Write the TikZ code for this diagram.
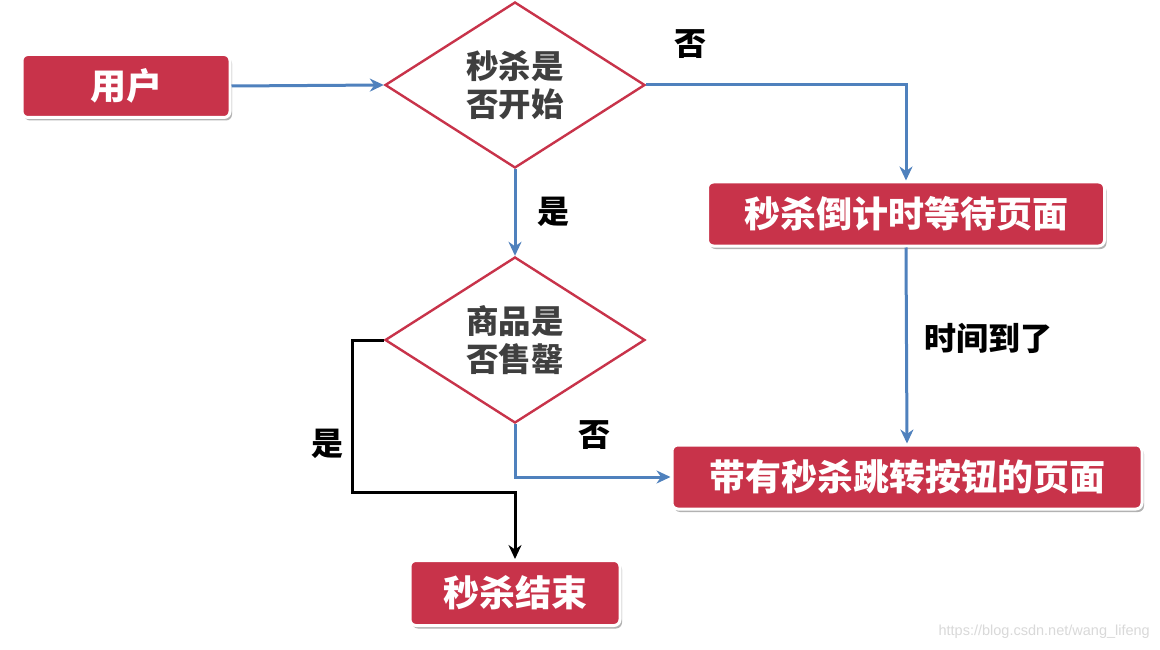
\documentclass[tikz,border=0pt]{standalone}
\usepackage{fontspec}
\newfontfamily\cjk{Noto Sans CJK SC}
\setsansfont{Liberation Sans}
\usetikzlibrary{shapes.geometric,arrows.meta,shadows}
\definecolor{boxred}{HTML}{C8334A}
\definecolor{flowblue}{HTML}{4F81BD}
\definecolor{diatext}{HTML}{3F3F3F}
\begin{document}
\begin{tikzpicture}[x=1pt,y=-1pt,
  redbox/.style={rectangle, rounded corners=6pt, fill=boxred, draw=white, line width=3pt,
    text=white, font=\cjk\bfseries\fontsize{36}{42}\selectfont, inner sep=0pt,
    drop shadow={shadow xshift=2pt, shadow yshift=-3pt, opacity=0.3, fill=black}},
  decision/.style={diamond, draw=boxred, line width=2.4pt, fill=white, aspect=1.57,
    minimum width=260pt, minimum height=166pt, inner sep=0pt, align=center,
    text=diatext, font=\cjk\bfseries\fontsize{32.5}{38}\selectfont},
  flow/.style={draw=flowblue, line width=3pt, -{Stealth[length=14pt,width=13pt]}},
  blackflow/.style={draw=black, line width=3pt, -{Stealth[length=14pt,width=13pt]}},
  lbl/.style={text=black, font=\cjk\bfseries\fontsize{32}{36}\selectfont, inner sep=0pt}
]
\useasboundingbox[fill=white] (0,0) rectangle (1160,650);

\node[redbox, minimum width=208pt, minimum height=63pt] (u) at (126,86) {用户};
\node[decision] (d1) at (515,85) {秒杀是\\否开始};
\node[redbox, minimum width=397pt, minimum height=64pt] (b2) at (906,214) {秒杀倒计时等待页面};
\node[decision] (d2) at (515,340) {商品是\\否售罄};
\node[redbox, minimum width=470pt, minimum height=64pt] (b3) at (907,477) {带有秒杀跳转按钮的页面};
\node[redbox, minimum width=210pt, minimum height=65pt] (b4) at (515,593) {秒杀结束};
\coordinate (c1) at (352,492);

\draw[flow] (u.east) -- (d1.west);
\draw[flow] (d1.east) -| (b2.north);
\draw[flow] (d1.south) -- (d2.north);
\draw[flow] (b2.south) -- (b3.north);
\draw[flow] (d2.south) |- (b3.west);
\draw[blackflow] (d2.west) -| (c1) -| (b4.north);

\node[lbl] (l1) at (690,44) {否};
\node[lbl] (l2) at (553,212) {是};
\node[lbl] (l3) at (988,338) {时间到了};
\node[lbl] (l4) at (594,435) {否};
\node[lbl] (l5) at (327,444) {是};

\node[anchor=east, text=black!15, font=\sffamily\fontsize{14.5}{16}\selectfont, inner sep=0pt] (wm) at (1150,632) {https://blog.csdn.net/wang\_lifeng};
\end{tikzpicture}
\end{document}
